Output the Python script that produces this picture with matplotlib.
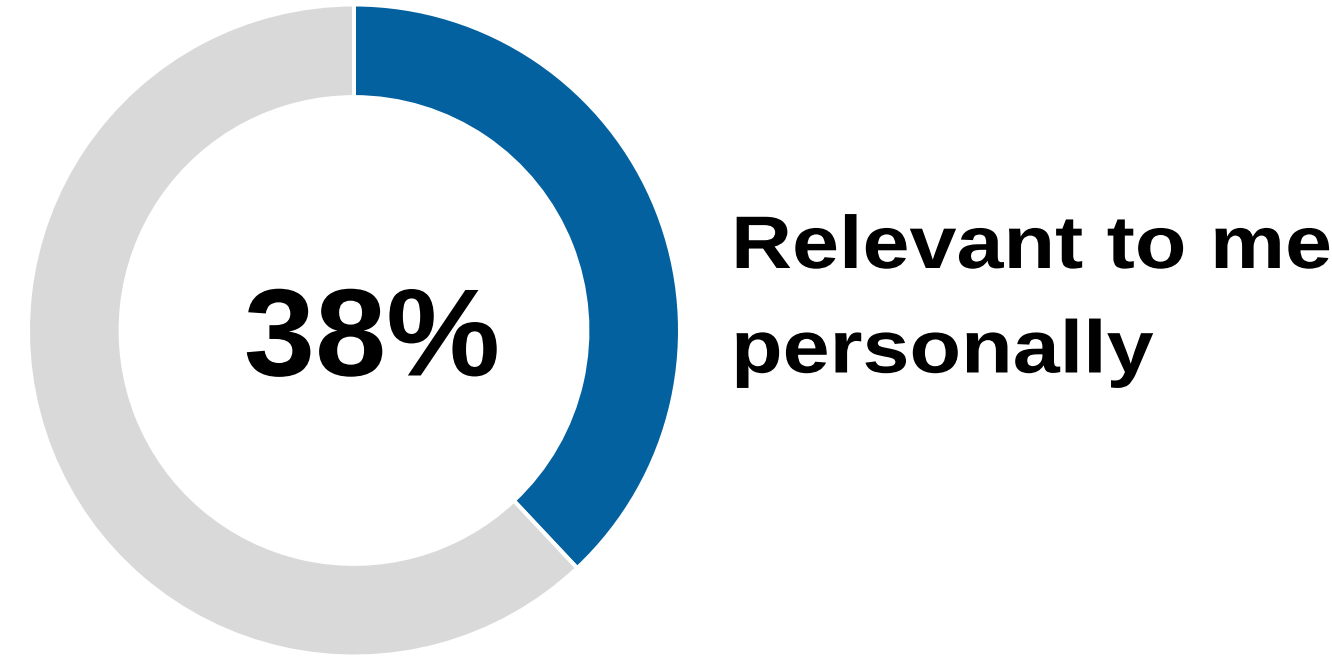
import matplotlib
matplotlib.use("Agg")
import matplotlib.pyplot as plt
from matplotlib import patheffects
from matplotlib.transforms import Affine2D

# Share of respondents
labels = ["Relevant to me personally", "Other"]
values = [38, 62]
colors = ["#03619F", "#D9D9D9"]
center_text = "38%"
side_lines = ["Relevant to me", "personally"]

W, H = 1332, 662
DPI = 100
fig = plt.figure(figsize=(W / DPI, H / DPI), dpi=DPI)
fig.patch.set_facecolor("white")


class HStretch(patheffects.AbstractPathEffect):
    """Widen glyphs horizontally about a fixed x position (display px)."""

    def __init__(self, sx, x0):
        super().__init__()
        self.sx = sx
        self.x0 = x0

    def draw_path(self, renderer, gc, tpath, affine, rgbFace=None):
        stretch = Affine2D().translate(-self.x0, 0).scale(self.sx, 1).translate(self.x0, 0)
        renderer.draw_path(gc, tpath, affine + stretch, rgbFace)


# Donut axes placed in pixel terms (white separators eat 2 px at each rim)
cx, cy, r_ax = 354, 330.5, 326
ax = fig.add_axes([(cx - r_ax) / W, (H - cy - r_ax) / H, 2 * r_ax / W, 2 * r_ax / H])
ax.pie(values, colors=colors, startangle=90, counterclock=False,
       radius=1.0,
       wedgeprops=dict(width=0.284, edgecolor="white", linewidth=4 * 72 / DPI))
ax.set_xlim(-1, 1)
ax.set_ylim(-1, 1)
ax.set_aspect("equal")
ax.axis("off")

font = "Liberation Sans"

# Central value
x_mid = 372
fig.text(x_mid / W, 1 - 375.5 / H, center_text, ha="center", va="baseline",
         fontsize=89.5, fontweight="bold", family=font, color="black",
         path_effects=[HStretch(1.03, x_mid)])

# Side label, two lines
x_left = 731
for line, base in zip(side_lines, [268, 372.5]):
    fig.text(x_left / W, 1 - base / H, line, ha="left", va="baseline",
             fontsize=53.6, fontweight="bold", family=font, color="black",
             path_effects=[HStretch(1.135, x_left)])

fig.savefig("out.png", dpi=DPI, facecolor="white")
